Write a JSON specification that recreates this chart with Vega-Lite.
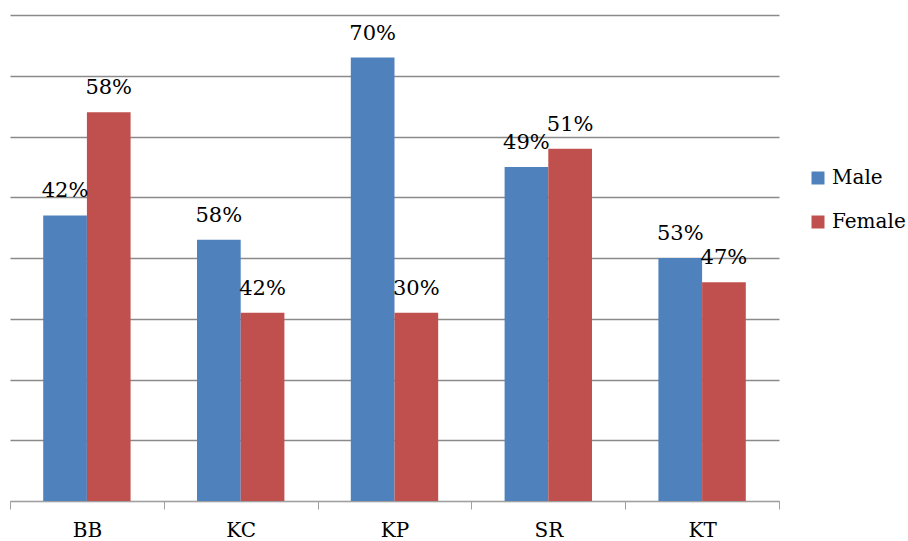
{
  "$schema": "https://vega.github.io/schema/vega-lite/v6.json",
  "autosize": "none",
  "width": 769,
  "height": 486,
  "padding": {"left": 10, "top": 15, "right": 129, "bottom": 40},
  "background": "#ffffff",
  "config": {
    "view": {"stroke": null},
    "font": "DejaVu Serif"
  },
  "data": {
    "values": [
      {"site": "BB", "gender": "Male", "count": 47, "pct": "42%"},
      {"site": "BB", "gender": "Female", "count": 64, "pct": "58%"},
      {"site": "KC", "gender": "Male", "count": 43, "pct": "58%"},
      {"site": "KC", "gender": "Female", "count": 31, "pct": "42%"},
      {"site": "KP", "gender": "Male", "count": 73, "pct": "70%"},
      {"site": "KP", "gender": "Female", "count": 31, "pct": "30%"},
      {"site": "SR", "gender": "Male", "count": 55, "pct": "49%"},
      {"site": "SR", "gender": "Female", "count": 58, "pct": "51%"},
      {"site": "KT", "gender": "Male", "count": 40, "pct": "53%"},
      {"site": "KT", "gender": "Female", "count": 36, "pct": "47%"}
    ]
  },
  "encoding": {
    "x": {
      "field": "site",
      "type": "nominal",
      "sort": ["BB", "KC", "KP", "SR", "KT"],
      "scale": {"paddingInner": 0, "paddingOuter": 0},
      "axis": {
        "title": null,
        "labelAngle": 0,
        "labelFont": "DejaVu Serif",
        "labelFontSize": 20,
        "labelColor": "#000000",
        "tickBand": "extent",
        "tickSize": 8,
        "tickColor": "#a0a0a0",
        "domainColor": "#a0a0a0",
        "labelPadding": 11,
        "grid": false
      }
    },
    "xOffset": {
      "field": "gender",
      "type": "nominal",
      "sort": ["Male", "Female"],
      "scale": {"paddingInner": 0, "paddingOuter": 0.76}
    },
    "y": {
      "field": "count",
      "type": "quantitative",
      "scale": {"domain": [0, 80], "nice": false},
      "axis": {
        "title": null,
        "labels": false,
        "ticks": false,
        "domain": false,
        "tickCount": 8,
        "grid": true,
        "gridColor": "#8a8a8a",
        "gridWidth": 1.3
      }
    }
  },
  "layer": [
    {
      "mark": {"type": "bar"},
      "encoding": {
        "color": {
          "field": "gender",
          "type": "nominal",
          "sort": ["Male", "Female"],
          "scale": {"domain": ["Male", "Female"], "range": ["#4F81BD", "#C0504D"]},
          "legend": {
            "title": null,
            "orient": "none",
            "legendX": 798,
            "legendY": 153,
            "symbolType": "square",
            "symbolSize": 169,
            "symbolStrokeWidth": 0,
            "labelFont": "DejaVu Serif",
            "labelFontSize": 20,
            "labelColor": "#000000",
            "labelOffset": 4,
            "rowPadding": 24
          }
        }
      }
    },
    {
      "mark": {"type": "text", "baseline": "middle", "dy": -24, "fontSize": 21, "font": "DejaVu Serif", "color": "#000000"},
      "encoding": {
        "text": {"field": "pct"}
      }
    }
  ]
}
